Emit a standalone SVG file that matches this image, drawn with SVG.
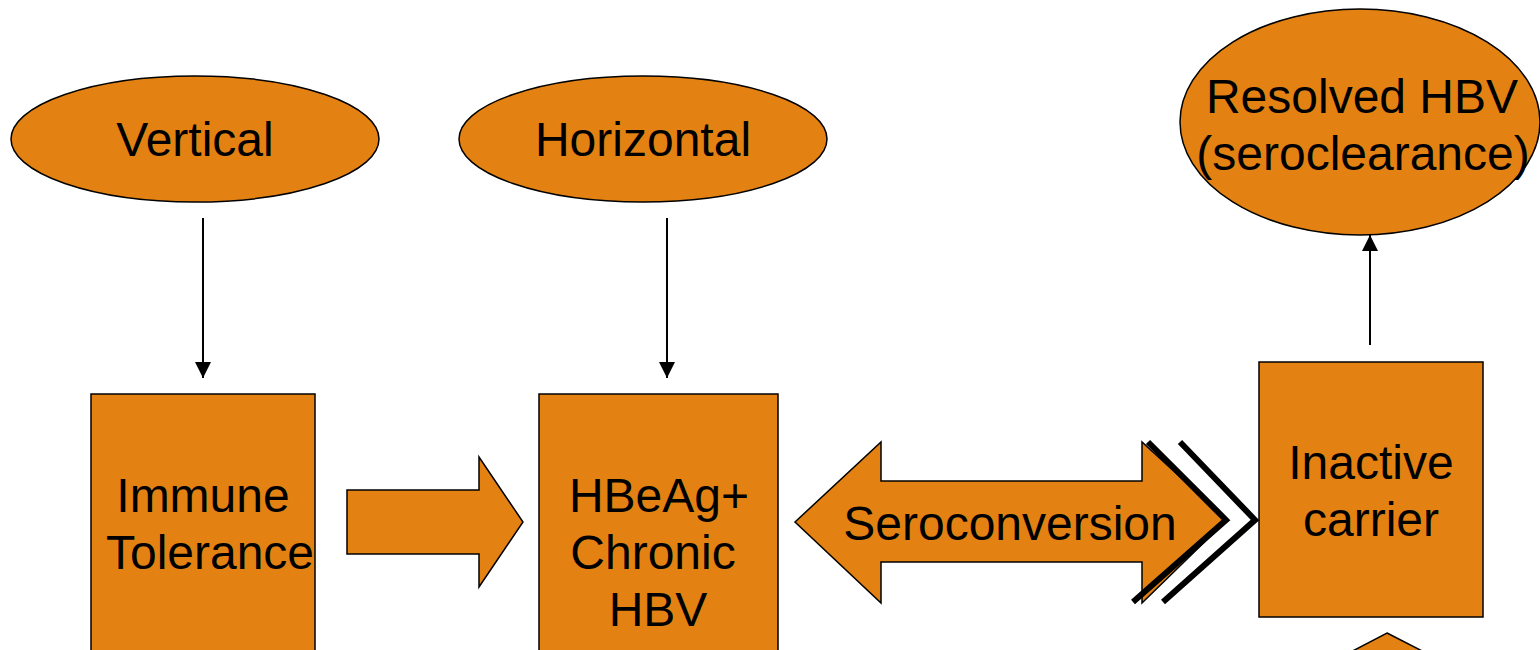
<svg xmlns="http://www.w3.org/2000/svg" width="1540" height="650" viewBox="0 0 1540 650">
<style>
.n{fill:#E38213;stroke:#000;stroke-width:1.5}
.t{font-family:"Liberation Sans",Arial,sans-serif;font-size:48px;fill:#000;text-anchor:middle}
.c{stroke:#000;stroke-width:2;fill:none}
.k{stroke:#000;stroke-width:6;fill:none}
</style>
<defs>
<marker id="ah" viewBox="0 0 10 10" refX="10" refY="5" markerWidth="8" markerHeight="8" orient="auto" markerUnits="strokeWidth">
<path d="M0,0 L10,5 L0,10 z" fill="#000"/>
</marker>
</defs>
<rect width="1540" height="650" fill="#fff"/>
<g id="vertical"><ellipse class="n" cx="195" cy="139" rx="184" ry="63"/><text class="t" x="195" y="156">Vertical</text></g>
<g id="horizontal"><ellipse class="n" cx="643" cy="139" rx="184" ry="63"/><text class="t" x="643" y="156">Horizontal</text></g>
<g id="resolved"><ellipse class="n" cx="1360" cy="122" rx="180" ry="113"/><text class="t" x="1362" y="113">Resolved HBV</text><text class="t" x="1363" y="170">(seroclearance)</text></g>
<g id="immune"><rect class="n" x="91" y="394" width="224" height="270"/><text class="t" x="203" y="512">Immune</text><text class="t" x="210" y="569">Tolerance</text></g>
<g id="hbeag"><rect class="n" x="539" y="394" width="239" height="270"/><text class="t" x="659" y="512">HBeAg+</text><text class="t" x="653" y="569">Chronic</text><text class="t" x="658" y="626">HBV</text></g>
<g id="inactive"><rect class="n" x="1259" y="362" width="224" height="255"/><text class="t" x="1371" y="479">Inactive</text><text class="t" x="1371" y="536">carrier</text></g>
<g id="bottom-shape"><polygon class="n" points="1387,633 1430,655 1345,655"/></g>
<g id="seroconversion"><polygon class="n" points="795,522 881,442 881,481 1142,481 1142,442 1227,520 1142,603 1142,562 881,562 881,603"/><text class="t" x="1010" y="540">Seroconversion</text></g>
<g id="connectors">
<line class="c" x1="203" y1="218" x2="203" y2="378" marker-end="url(#ah)"/>
<line class="c" x1="667" y1="218" x2="667" y2="378" marker-end="url(#ah)"/>
<line class="c" x1="1370" y1="345" x2="1370" y2="235" marker-end="url(#ah)"/>
<polygon class="n" points="347,490 479,490 479,457 523,522 479,587 479,554 347,554"/>
<polyline class="k" points="1148,442 1226,520 1133,602"/>
<polyline class="k" points="1180,442 1255,520 1163,602"/>
</g>
</svg>
